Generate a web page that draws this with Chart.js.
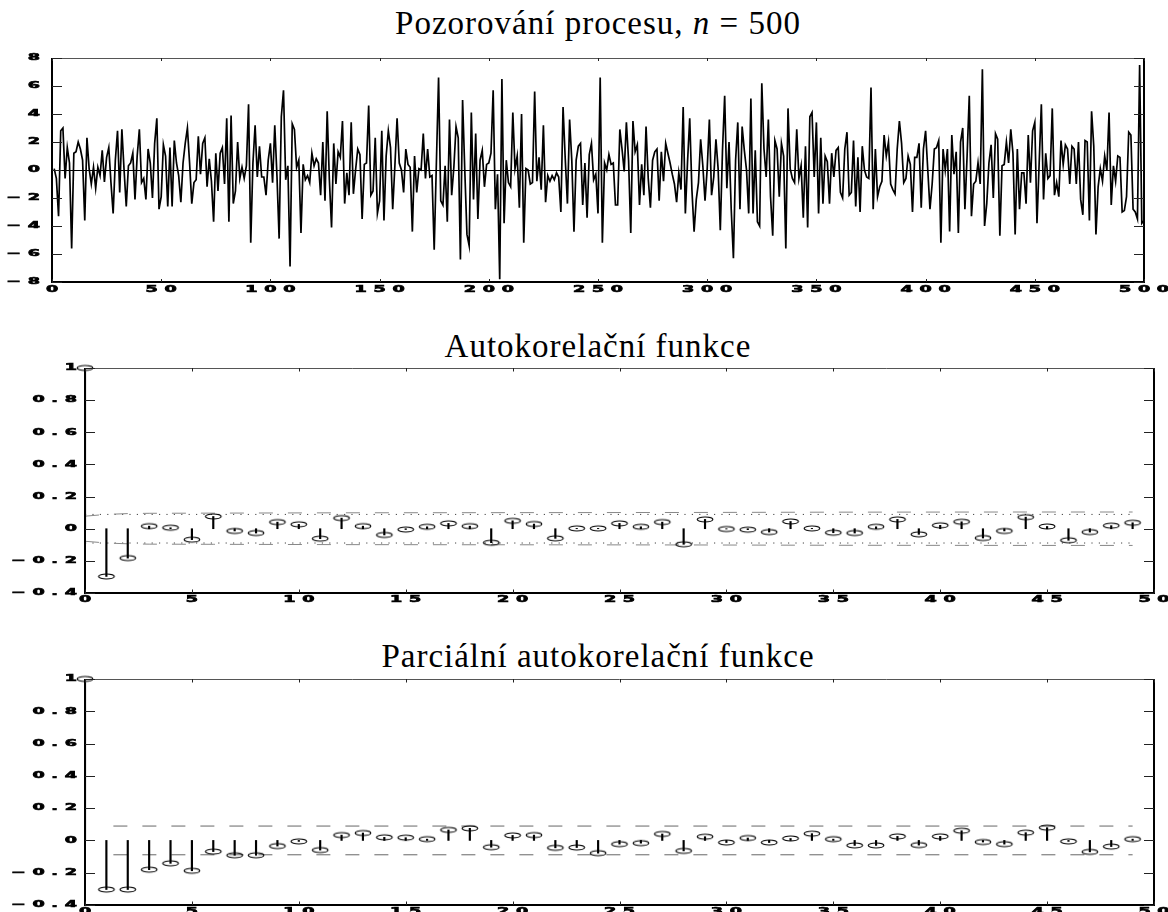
<!DOCTYPE html>
<html>
<head>
<meta charset="utf-8">
<script src="https://cdn.jsdelivr.net/npm/chart.js@4"></script>
<style>
    html, body { margin: 0; padding: 0; background: #fff; width: 1168px; height: 912px; overflow: hidden; position: relative; }
    .title { position: absolute; left: 14px; width: 1168px; text-align: center; font-family: 'Liberation Serif', serif; font-size: 33px; line-height: 36px; color: #000; letter-spacing: 1px; }
    .panel { position: absolute; left: 0; }
</style>
</head>
<body>
<div class="title" style="top:5px">Pozorování procesu, <i>n</i> = 500</div>
<div class="title" style="top:328px">Autokorelační funkce</div>
<div class="title" style="top:638px">Parciální autokorelační funkce</div>
<canvas class="panel" id="seriesChart" width="1168" height="260" style="top:50px"></canvas>
<canvas class="panel" id="acfChart" width="1168" height="250" style="top:360px"></canvas>
<canvas class="panel" id="pacfChart" width="1168" height="260" style="top:670px"></canvas>

<script>
const seriesValues = [
    0.1, -0.6, -3.3, 2.8, 3.0, -0.6, 1.6, 0.5, -5.6, 1.2,
    1.3, 2.0, 1.5, 0.7, -3.6, 2.3, 0.1, -1.0, 0.2, -1.3,
    0.2, -0.4, 1.4, -0.85, 0.9, 1.6, -0.9, -3.1, 0.7, 2.8,
    -1.6, 2.9, 0.0, -2.6, 0.3, 0.5, 1.2, -2.1, 1.0, 2.9,
    -0.9, -0.6, -2.1, 1.5, 0.5, -2.0, 1.9, 3.7, -2.8, -1.9,
    1.8, 1.0, -2.6, 1.6, -2.6, 2.1, 0.5, -0.4, -2.3, 0.5,
    1.9, 3.0, 0.5, -2.4, -0.9, -0.7, 2.4, -0.3, 1.9, 2.3,
    -1.2, 0.8, -0.8, -3.7, 1.2, -1.5, 1.2, 1.6, -1.0, 3.7,
    -3.7, 3.9, -2.4, -1.5, 2.0, -0.6, 0.2, -0.6, 0.3, 4.7,
    -5.2, 0.5, 3.2, -0.5, 1.7, -0.5, -0.5, -1.8, 0.7, 1.9,
    -0.9, 3.2, -0.4, -4.9, 3.8, 5.7, -0.7, 0.3, -6.9, 3.3,
    2.9, 0.2, 0.7, -4.5, 0.4, -0.7, -0.4, -0.9, 1.2, 0.3,
    0.8, 0.5, -1.8, 2.0, -2.2, 4.2, -0.7, -4.1, 1.9, -1.0,
    1.3, 0.9, 3.5, -2.4, -0.2, -1.8, 3.4, -1.7, 0.0, 1.5,
    1.1, -3.5, 0.4, 0.5, 4.6, -1.8, -1.5, 2.3, -3.1, -2.2,
    2.8, -3.6, 1.0, 2.8, 1.6, -2.8, 0.3, 3.7, 0.5, 0.0,
    -1.6, 1.5, 0.4, 0.2, -4.4, 1.0, -1.6, 0.1, 0.0, 2.6,
    -0.6, 1.5, -0.5, -0.4, -5.7, 0.5, 6.6, -2.2, -2.5, 0.3,
    -3.7, 3.6, -1.8, 0.2, 3.1, 2.3, -6.4, 5.0, 0.0, -4.6,
    -5.4, 4.1, -2.1, 2.6, -3.5, 0.7, 1.4, -1.2, 0.4, 0.5,
    1.2, 5.7, -2.8, -0.3, -7.8, 6.5, -3.8, 0.7, -0.9, -1.2,
    4.1, 0.1, 1.0, -2.7, 4.0, -5.2, 0.1, 0.0, -1.0, -0.9,
    5.6, -0.8, 0.9, -1.4, 3.2, -2.3, -0.4, -0.8, -0.4, -0.7,
    -0.2, -0.5, -3.0, 4.5, 0.8, -2.4, 3.6, 0.7, -4.4, 0.7,
    1.7, 1.9, -2.5, 0.5, -3.4, 1.1, 1.9, -0.7, -0.3, -3.1,
    6.6, -5.2, 0.5, 0.0, 1.1, 0.4, 0.5, -2.5, -2.5, 2.9,
    1.5, -0.1, 3.4, 0.7, -4.5, 3.5, 1.3, 1.8, -2.5, 0.4,
    -1.8, 3.1, -0.6, -2.7, 0.7, 1.3, 1.5, -2.2, 1.3, -0.8,
    1.9, 1.2, 0.5, -0.3, -1.0, -2.3, -0.2, -1.4, 4.5, -3.1,
    0.6, 3.7, -1.4, -4.4, -2.1, -0.9, 2.2, 0.3, -2.2, 0.1,
    3.6, -1.8, -0.5, 2.2, 0.1, -4.3, 1.4, 5.3, -1.3, 2.0,
    -2.8, -6.3, 0.7, 3.4, -2.8, 3.1, 1.4, 0.0, -3.1, 5.1,
    -3.1, 1.4, -3.7, -4.0, 6.2, 1.5, -0.5, 3.6, -1.9, -4.7,
    2.1, 1.5, -1.9, 1.9, 1.0, -5.6, 4.4, 0.1, -0.6, -0.9,
    2.9, -0.6, 0.3, -3.4, 1.7, -4.1, 3.8, 4.1, -0.5, 3.4,
    -3.1, 2.3, -2.4, 1.0, 0.6, -2.4, 1.2, -0.5, 1.4, 1.6,
    -1.6, -2.0, 1.5, 2.7, -1.8, -1.6, 2.1, -2.6, 0.9, -3.0,
    1.7, 0.0, -0.5, -0.6, 5.9, -2.8, 1.5, -1.9, -1.2, -0.8,
    2.5, 1.0, 2.0, -1.0, -1.4, -1.7, 1.5, 3.5, 1.9, -0.9,
    -0.6, 1.0, 0.4, -3.0, 0.9, 0.9, 1.9, -2.7, 1.5, 2.8,
    0.0, -2.8, -1.0, 1.5, 1.6, 2.1, -5.2, 1.5, 0.0, 1.5,
    -4.4, 2.5, -0.3, 1.3, -4.5, 2.0, 3.0, -2.8, 1.0, 5.3,
    -3.3, -1.0, -0.8, 0.5, -1.0, 7.2, -4.0, -2.4, 0.5, 1.8,
    -2.0, 2.6, 2.2, -4.7, 0.3, 0.4, 2.0, 0.5, 2.9, 1.2,
    -4.6, 1.5, -2.8, -0.2, -0.2, -2.4, 2.5, -0.9, 2.8, 3.4,
    -3.8, 0.5, 4.7, -2.1, 1.2, -0.6, -0.4, 4.4, -1.8, -0.9,
    -1.9, 2.1, 0.4, 1.8, 1.5, -1.0, 1.7, 1.5, -1.0, 2.0,
    -2.1, -3.2, 2.1, 2.0, -3.6, 4.2, 1.7, -4.6, -1.2, 0.1,
    -0.8, 1.0, 0.0, 4.1, -2.5, 0.3, -0.8, 1.0, 0.9, -3.0,
    -2.9, -1.9, 2.7, 2.5, -2.8, -3.0, -3.5, 7.5, -3.8, -3.6
];

// --- Data: sample ACF and PACF, lags 0..49 ---
const lags = [
    0, 1, 2, 3, 4, 5, 6, 7, 8, 9, 10, 11, 12, 13, 14, 15, 16, 17, 18, 19, 20, 21, 22, 23, 24,
    25, 26, 27, 28, 29, 30, 31, 32, 33, 34, 35, 36, 37, 38, 39, 40, 41, 42, 43, 44, 45, 46, 47, 48, 49
];
const acfValues = [
    1.0, -0.297, -0.183, 0.016, 0.006, -0.068, 0.076, -0.014, -0.027, 0.041,
    0.027, -0.062, 0.066, 0.016, -0.039, -0.005, 0.012, 0.033, 0.016, -0.087,
    0.049, 0.029, -0.06, 0.002, 0.002, 0.033, 0.012, 0.041, -0.097, 0.058,
    -0.002, -0.006, -0.021, 0.045, 0.002, -0.025, -0.027, 0.012, 0.058, -0.035,
    0.021, 0.043, -0.058, -0.014, 0.072, 0.014, -0.072, -0.021, 0.019, 0.037
];
const pacfValues = [
    1.0, -0.304, -0.304, -0.181, -0.142, -0.188, -0.069, -0.092, -0.092, -0.035,
    -0.006, -0.06, 0.033, 0.046, 0.019, 0.017, 0.008, 0.065, 0.075, -0.042,
    0.031, 0.033, -0.046, -0.044, -0.079, -0.023, -0.017, 0.04, -0.065, 0.023,
    -0.013, 0.015, -0.013, 0.012, 0.042, 0.008, -0.031, -0.031, 0.025, -0.029,
    0.025, 0.06, -0.01, -0.023, 0.048, 0.079, -0.006, -0.071, -0.038, 0.008
];

// --- Data: confidence limits ---
const acfBandLags = [0, 1, 2, 3, 6, 12, 20, 28, 35, 44, 49];
const acfBandUpper = [0.078, 0.089, 0.094, 0.096, 0.097, 0.099, 0.100, 0.101, 0.103, 0.104, 0.104];
const acfBandLower = [-0.078, -0.089, -0.094, -0.096, -0.097, -0.099, -0.100, -0.101, -0.103, -0.104, -0.104];
const acfLimitLags = [0, 49];
const acfLimitUpper = [0.089, 0.089];
const acfLimitLower = [-0.089, -0.089];
const pacfLimitLags = [1, 49];
const pacfLimitUpper = [0.089, 0.089];
const pacfLimitLower = [-0.089, -0.089];

// --- Tick labels ---
const seriesXTicks = [0, 50, 100, 150, 200, 250, 300, 350, 400, 450, 500];
const seriesYTicks = [-8, -6, -4, -2, 0, 2, 4, 6, 8];
const lagTicks = [0, 5, 10, 15, 20, 25, 30, 35, 40, 45, 50];
const corrTicks = [-0.4, -0.2, 0, 0.2, 0.4, 0.6, 0.8, 1];

// --- Helpers ---
const pts = (xs, ys) => ys.map((v, i) => ({ x: xs[i], y: v }));

function fmtTick(v) {
    const r = Math.round(v * 10) / 10;
    let s = Number.isInteger(r) ? String(r) : r.toFixed(1);
    if (r === 0) s = '0';
    return s.replace('-', '\u2212');
}

// wide, squat, spaced-out tick lettering (as in the old plot)
function drawWideText(ctx, text, x, y, align) {
    const sx = 1.6, sy = 0.82, gap = 4.2;
    ctx.save();
    ctx.font = 'bold 11px "DejaVu Sans"';
    ctx.textBaseline = 'middle';
    ctx.textAlign = 'left';
    ctx.lineWidth = 0.8;
    ctx.strokeStyle = '#000';
    const chars = Array.from(text);
    const widths = chars.map(c => ctx.measureText(c).width);
    const total = widths.reduce((s, w) => s + w, 0) + gap * (chars.length - 1);
    const left = align === 'right' ? x - total * sx : x - total * sx / 2;
    ctx.translate(left, y);
    ctx.scale(sx, sy);
    let cx = 0;
    chars.forEach((c, i) => {
        ctx.fillText(c, cx, 0);
        ctx.strokeText(c, cx, 0);
        cx += widths[i] + gap;
    });
    ctx.restore();
}

// open ellipse marker
const ellipse = document.createElement('canvas');
ellipse.width = 20;
ellipse.height = 9;
(function () {
    const c = ellipse.getContext('2d');
    c.strokeStyle = '#000';
    c.lineWidth = 1.2;
    c.beginPath();
    c.ellipse(10, 4.5, 7.8, 2.5, 0, 0, Math.PI * 2);
    c.stroke();
})();

// frame, inward ticks and labels
const framePlugin = {
    id: 'frame',
    afterDraw(chart, args, opts) {
        const { ctx, chartArea: a, scales: { x, y } } = chart;
        ctx.save();
        ctx.lineCap = 'butt';

        ctx.strokeStyle = '#555';
        ctx.lineWidth = 1;
        ctx.beginPath();
        ctx.moveTo(a.left, a.top + 0.5);
        ctx.lineTo(a.right, a.top + 0.5);
        ctx.stroke();

        ctx.strokeStyle = '#000';
        ctx.lineWidth = 2;
        ctx.beginPath();
        ctx.moveTo(a.left, a.top);
        ctx.lineTo(a.left, a.bottom);
        ctx.lineTo(a.right, a.bottom);
        ctx.lineTo(a.right, a.top);
        ctx.stroke();

        ctx.lineWidth = 1;
        ctx.strokeStyle = '#222';
        x.ticks.forEach(t => {
            const px = Math.round(x.getPixelForValue(t.value)) + 0.5;
            ctx.beginPath();
            ctx.moveTo(px, a.bottom);
            ctx.lineTo(px, a.bottom - opts.xTickLen);
            ctx.moveTo(px, a.top);
            ctx.lineTo(px, a.top + opts.xTickLen);
            ctx.stroke();
        });
        y.ticks.forEach(t => {
            const py = Math.round(y.getPixelForValue(t.value)) + 0.5;
            ctx.beginPath();
            ctx.moveTo(a.left, py);
            ctx.lineTo(a.left + opts.yTickLen, py);
            ctx.moveTo(a.right, py);
            ctx.lineTo(a.right - opts.yTickLen, py);
            ctx.stroke();
        });

        ctx.fillStyle = '#000';
        y.ticks.forEach(t => {
            drawWideText(ctx, fmtTick(t.value), a.left - opts.yLabelPad, y.getPixelForValue(t.value), 'right');
        });
        x.ticks.forEach(t => {
            drawWideText(ctx, fmtTick(t.value), x.getPixelForValue(t.value), a.bottom + opts.xLabelGap, 'center');
        });
        ctx.restore();
    }
};

function axes(xMin, xMax, xTicks, yMin, yMax, yTicks, zeroLine) {
    const hidden = { display: false };
    return {
        x: {
            type: 'linear', min: xMin, max: xMax, offset: false,
            afterBuildTicks: s => { s.ticks = xTicks.map(v => ({ value: v })); },
            afterFit: s => { s.height = 0; },
            ticks: hidden, border: hidden, grid: { display: false, drawTicks: false }
        },
        y: {
            type: 'linear', min: yMin, max: yMax,
            afterBuildTicks: s => { s.ticks = yTicks.map(v => ({ value: v })); },
            afterFit: s => { s.width = 0; },
            ticks: hidden, border: hidden,
            grid: {
                display: zeroLine, drawTicks: false, lineWidth: 1,
                color: c => (c.tick && c.tick.value === 0) ? '#000' : 'rgba(0,0,0,0)'
            }
        }
    };
}

function baseOptions(padding, scales, frame) {
    return {
        responsive: false,
        animation: false,
        layout: { padding: padding },
        plugins: { legend: { display: false }, tooltip: { enabled: false }, frame: frame },
        scales: scales
    };
}

// --- 1. Time series ---
new Chart(document.getElementById('seriesChart'), {
    type: 'line',
    data: {
        datasets: [{
            data: seriesValues.map((v, i) => ({ x: i + 1, y: v })),
            borderColor: '#000',
            borderWidth: 1.7,
            pointRadius: 0,
            tension: 0
        }]
    },
    options: baseOptions(
        { left: 52, right: 24, top: 8, bottom: 28 },
        axes(0, 500, seriesXTicks, -8, 8, seriesYTicks, true),
        { xTickLen: 3, yTickLen: 10, yLabelPad: 12, xLabelGap: 8 }
    ),
    plugins: [framePlugin]
});

// --- 2./3. Correlograms ---
function correlogram(id, values, bands, padding) {
    const datasets = [
        {
            type: 'line', data: pts(lags, values), showLine: false,
            pointStyle: ellipse, pointRadius: 3, clip: false, order: 0
        },
        {
            type: 'bar', data: pts(lags, values), backgroundColor: '#000',
            barThickness: 1.5, order: 1
        }
    ];
    bands.forEach(b => datasets.push({
        type: 'line', data: pts(b.lags, b.values), borderColor: b.color, borderWidth: 1,
        borderDash: b.dash, borderDashOffset: b.offset || 0, pointRadius: 0, order: 2
    }));
    new Chart(document.getElementById(id), {
        type: 'bar',
        data: { datasets: datasets },
        options: baseOptions(
            padding,
            axes(0, 50, lagTicks, -0.4, 1, corrTicks, false),
            { xTickLen: 3.5, yTickLen: 10, yLabelPad: 8, xLabelGap: 6.5 }
        ),
        plugins: [framePlugin]
    });
}

correlogram('acfChart', acfValues, [
    { lags: acfBandLags, values: acfBandUpper, color: '#888', dash: [14, 15] },
    { lags: acfBandLags, values: acfBandLower, color: '#888', dash: [14, 15] },
    { lags: acfLimitLags, values: acfLimitUpper, color: '#444', dash: [1.2, 6.2] },
    { lags: acfLimitLags, values: acfLimitLower, color: '#444', dash: [1.2, 6.2] }
], { left: 85, right: 14, top: 8, bottom: 17 });

correlogram('pacfChart', pacfValues, [
    { lags: pacfLimitLags, values: pacfLimitUpper, color: '#666', dash: [14, 15], offset: 22 },
    { lags: pacfLimitLags, values: pacfLimitLower, color: '#666', dash: [14, 15], offset: 22 }
], { left: 85, right: 14, top: 9, bottom: 25 });
</script>
</body>
</html>
